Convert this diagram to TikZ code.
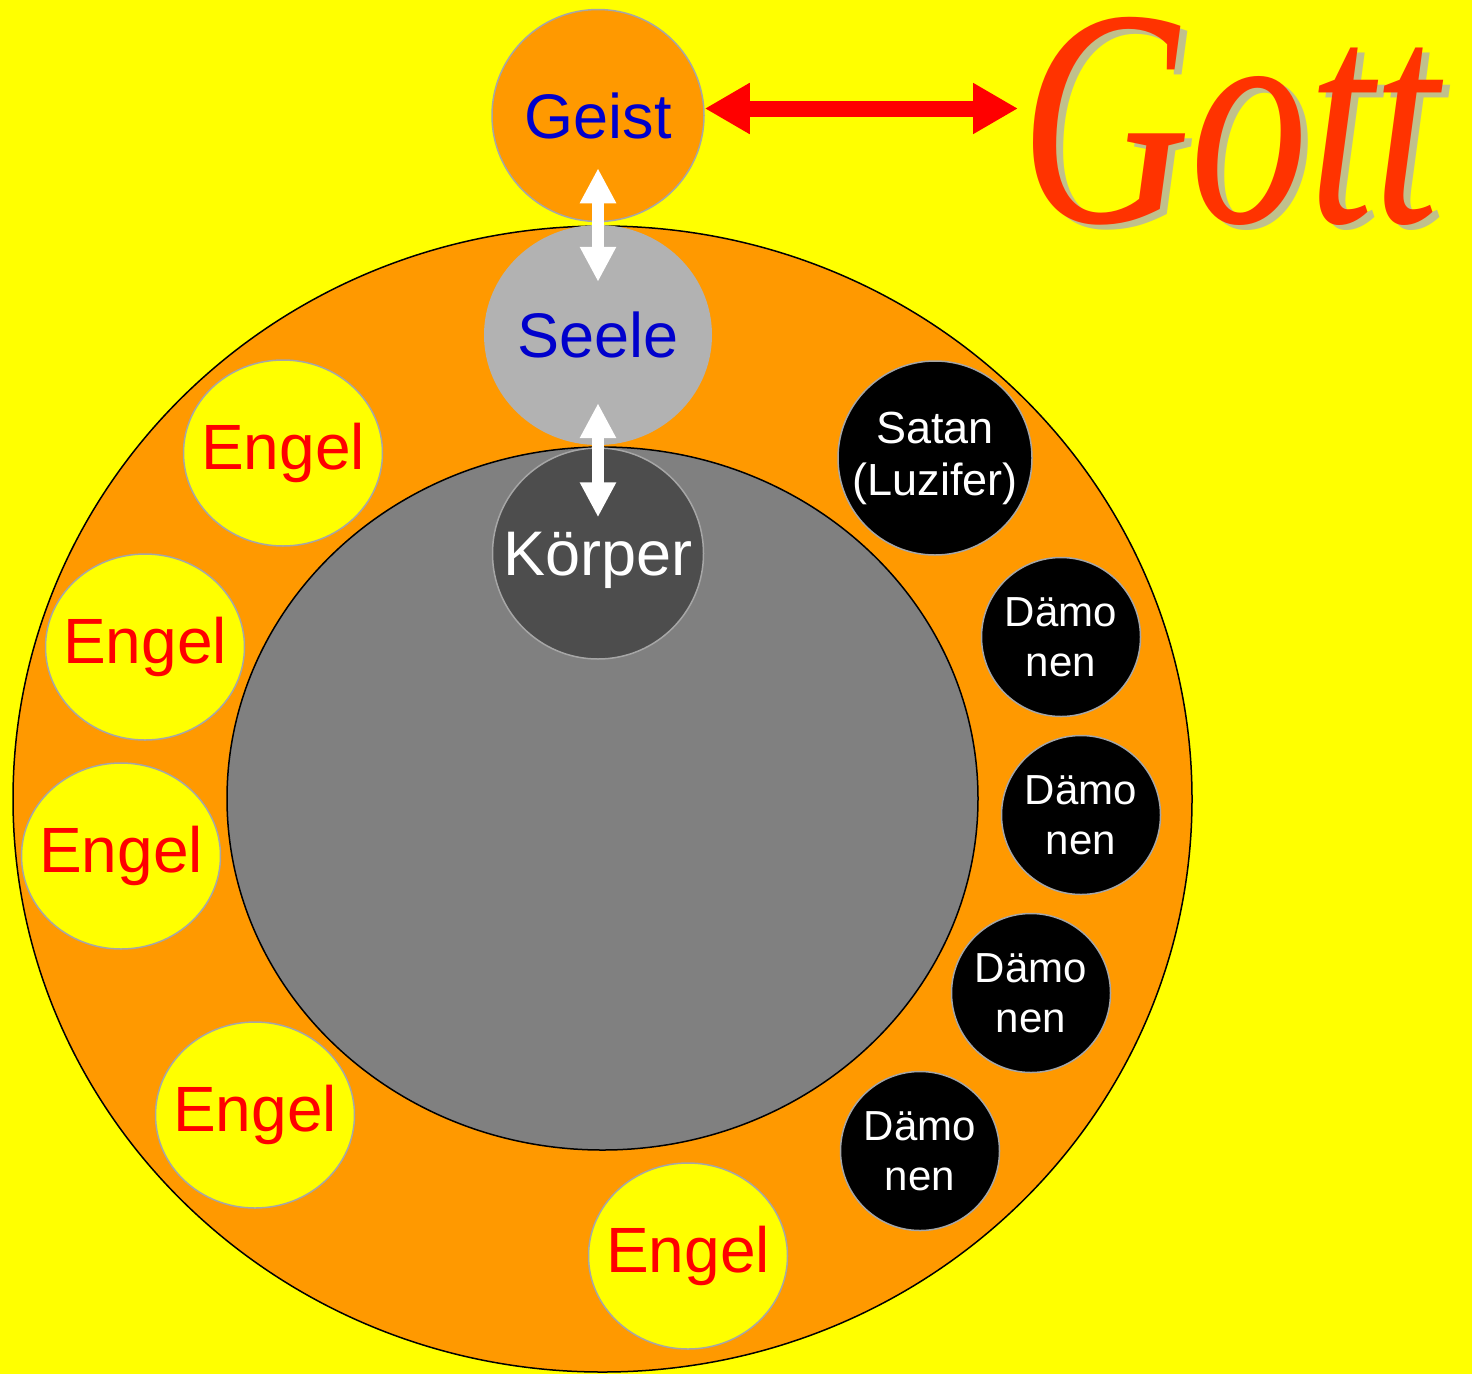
\documentclass[tikz,border=0pt]{standalone}
\usepackage{fontspec}
\setmainfont{Liberation Sans}
\newfontfamily\gottfont{Liberation Serif}
\usepackage{xcolor}
\usepackage{tikz}
\usetikzlibrary{shapes.geometric,arrows.meta}
\definecolor{himmel}{HTML}{FFFF00}
\definecolor{geistig}{HTML}{FF9900}
\definecolor{erdgrau}{HTML}{808080}
\definecolor{seelgrau}{HTML}{B2B2B2}
\definecolor{leibgrau}{HTML}{4D4D4D}
\definecolor{rand}{HTML}{A6A6A6}
\definecolor{tinte}{HTML}{0000CC}
\definecolor{gottrot}{HTML}{FF3300}
\definecolor{schatten}{HTML}{C0C08C}

\begin{document}
\begin{tikzpicture}[
    x=1pt,y=-1pt,
    ring/.style={draw=black,line width=1.5pt,ellipse,inner sep=0pt},
    kreis/.style={circle,inner sep=0pt,draw=rand,line width=1.5pt,align=center},
    engel/.style={ellipse,inner sep=0pt,draw=rand,line width=1.5pt,fill=himmel,
      minimum width=199pt,minimum height=186pt},
    engeltext/.style={text=red,font=\fontsize{64}{72}\selectfont,inner sep=0pt},
    daemon/.style={kreis,fill=black,text=white,minimum size=159pt,
      font=\fontsize{42}{50}\selectfont},
    wpfeil/.style={draw=white,line width=12pt,{Triangle[length=35pt,width=34pt]}-{Triangle[length=35pt,width=34pt]}},
    rpfeil/.style={draw=red,line width=16pt,{Triangle[length=45pt,width=48pt]}-{Triangle[length=45pt,width=48pt]}}
  ]
    \useasboundingbox (0,0) rectangle (1472,1374);
    \fill[himmel] (0,0) rectangle (1472,1374);
    % Welt und Erde
    \node[ring,fill=geistig,minimum width=1179pt,minimum height=1146pt] (welt) at (602.5,799) {};
    \node[ring,fill=erdgrau,minimum width=751pt,minimum height=703pt] (erde) at (602.5,798.5) {};
    % Mensch
    \node[kreis,fill=geistig,text=tinte,minimum size=212pt,font=\fontsize{63}{70}\selectfont] (geist) at (598,115.5) {Geist};
    \node[ellipse,inner sep=0pt,fill=seelgrau,text=tinte,minimum width=228pt,minimum height=220pt,font=\fontsize{63}{70}\selectfont] (seele) at (598,335) {Seele};
    \node[kreis,fill=leibgrau,text=white,minimum size=211pt,text depth=0pt,font=\fontsize{63}{70}\selectfont] (koerper) at (598,553.5) {Körper};
    % Engel
    \node[engel,label={[engeltext]center:Engel}] (engel1) at (283,453) {};
    \node[engel,label={[engeltext]center:Engel}] (engel2) at (145,647) {};
    \node[engel,label={[engeltext]center:Engel}] (engel3) at (121,856) {};
    \node[engel,label={[engeltext]center:Engel}] (engel4) at (255,1115) {};
    \node[engel,label={[engeltext]center:Engel}] (engel5) at (688,1256) {};
    % Satan und Daemonen
    \node[kreis,fill=black,text=white,minimum size=194pt,font=\fontsize{45}{52}\selectfont] (satan) at (935,458) {Satan\\(Luzifer)};
    \node[daemon] (daemon1) at (1061,637) {Dämo\\nen};
    \node[daemon] (daemon2) at (1081,815) {Dämo\\nen};
    \node[daemon] (daemon3) at (1031,993) {Dämo\\nen};
    \node[daemon] (daemon4) at (920,1151) {Dämo\\nen};
    % Gott
    \node[anchor=base west,inner sep=0pt,text=schatten,font=\gottfont\itshape\fontsize{310}{320}\selectfont] (gottschatten) at (1027,227) {\scalebox{0.76}[1]{Gott}};
    \node[anchor=base west,inner sep=0pt,text=gottrot,font=\gottfont\itshape\fontsize{310}{320}\selectfont] (gott) at (1020,222) {\scalebox{0.76}[1]{Gott}};
    % Pfeile
    \draw[wpfeil,shorten <=-54pt,shorten >=-57pt] (geist.south) -- (seele.north);
    \draw[wpfeil,shorten <=-42pt,shorten >=-70pt] (seele.south) -- (koerper.north);
    \draw[rpfeil,shorten >=2pt] ([yshift=7pt]geist.east) -- ([yshift=7pt]geist.east -| gott.west);
  \end{tikzpicture}
\end{document}
